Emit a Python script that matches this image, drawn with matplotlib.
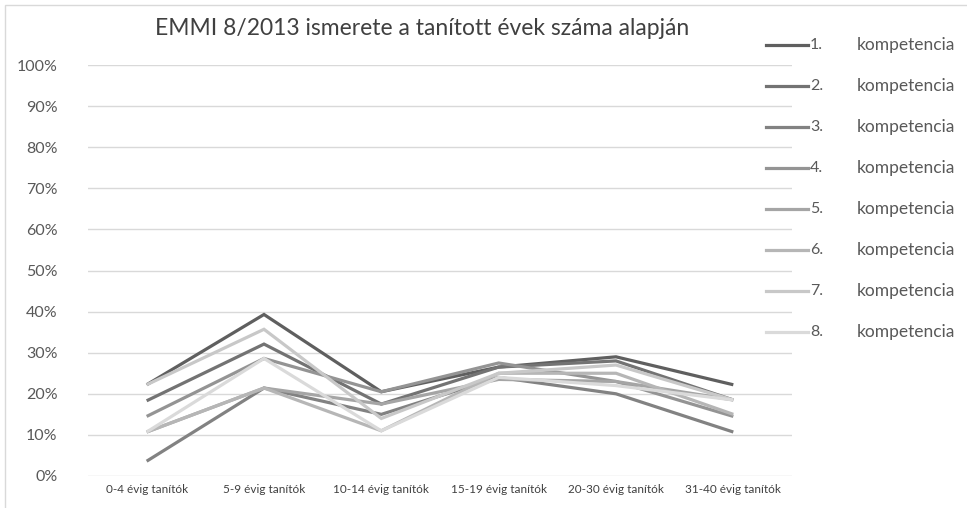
import matplotlib
matplotlib.use('Agg')
import matplotlib.pyplot as plt
from matplotlib.lines import Line2D
from matplotlib.patches import Rectangle
from matplotlib.ticker import PercentFormatter

plt.rcParams['font.family'] = ['Lato', 'DejaVu Sans']

# Data (share of teachers knowing EMMI 8/2013, by years taught)
categories = ['0-4 évig tanítók', '5-9 évig tanítók', '10-14 évig tanítók',
              '15-19 évig tanítók', '20-30 évig tanítók', '31-40 évig tanítók']
series_names = ['1.', '2.', '3.', '4.', '5.', '6.', '7.', '8.']
k1 = [0.222, 0.393, 0.205, 0.265, 0.290, 0.222]
k2 = [0.183, 0.321, 0.175, 0.265, 0.280, 0.185]
k3 = [0.036, 0.214, 0.150, 0.240, 0.200, 0.107]
k4 = [0.145, 0.286, 0.205, 0.275, 0.230, 0.145]
k5 = [0.107, 0.214, 0.175, 0.235, 0.230, 0.185]
k6 = [0.107, 0.214, 0.110, 0.250, 0.250, 0.150]
k7 = [0.222, 0.357, 0.140, 0.250, 0.270, 0.185]
k8 = [0.107, 0.286, 0.110, 0.240, 0.220, 0.185]
series = [k1, k2, k3, k4, k5, k6, k7, k8]

colors = ['#5f5f5f', '#737373', '#828282', '#949494',
          '#a5a5a5', '#b6b6b6', '#c8c8c8', '#dadada']

fig = plt.figure(figsize=(9.67, 5.08), dpi=100)
ax = fig.add_axes([0.091, 0.063, 0.728, 0.809])

x = range(len(categories))
for vals, c in zip(series, colors):
    ax.plot(x, vals, color=c, lw=2.3, solid_capstyle='butt', solid_joinstyle='miter')

ax.set_xlim(-0.5, len(categories) - 0.5)
ax.set_ylim(0, 1)
ax.set_yticks([i / 10 for i in range(11)])
ax.yaxis.set_major_formatter(PercentFormatter(1.0, decimals=0))
ax.grid(axis='y', color='#d9d9d9', lw=1)
ax.set_axisbelow(True)
for s in ax.spines.values():
    s.set_visible(False)
ax.tick_params(length=0)
ax.tick_params(axis='y', labelsize=11.5, labelcolor='#595959', pad=22)
ax.set_xticks(list(x))
ax.set_xticklabels(categories, fontsize=8.5, color='#404040')
ax.tick_params(axis='x', pad=6)

fig.text(0.437, 0.944, 'EMMI 8/2013 ismerete a tanított évek száma alapján',
         ha='center', va='center', fontsize=16.5, color='#404040')

# legend
for i, (name, c) in enumerate(zip(series_names, colors)):
    y = 1 - (45 + i * 41) / 508
    fig.add_artist(Line2D([766 / 967, 808 / 967], [y, y], color=c, lw=2.3,
                          transform=fig.transFigure))
    fig.text(810 / 967, y, name, ha='left', va='center', fontsize=11.5, color='#595959')
    fig.text(857 / 967, y, 'kompetencia', ha='left', va='center', fontsize=12.5,
             color='#595959')

fig.add_artist(Rectangle((0.005, -0.01), 1.1, 1.0, transform=fig.transFigure,
                         fill=False, edgecolor='#d9d9d9', lw=1))

fig.savefig('out.png', dpi=100)
